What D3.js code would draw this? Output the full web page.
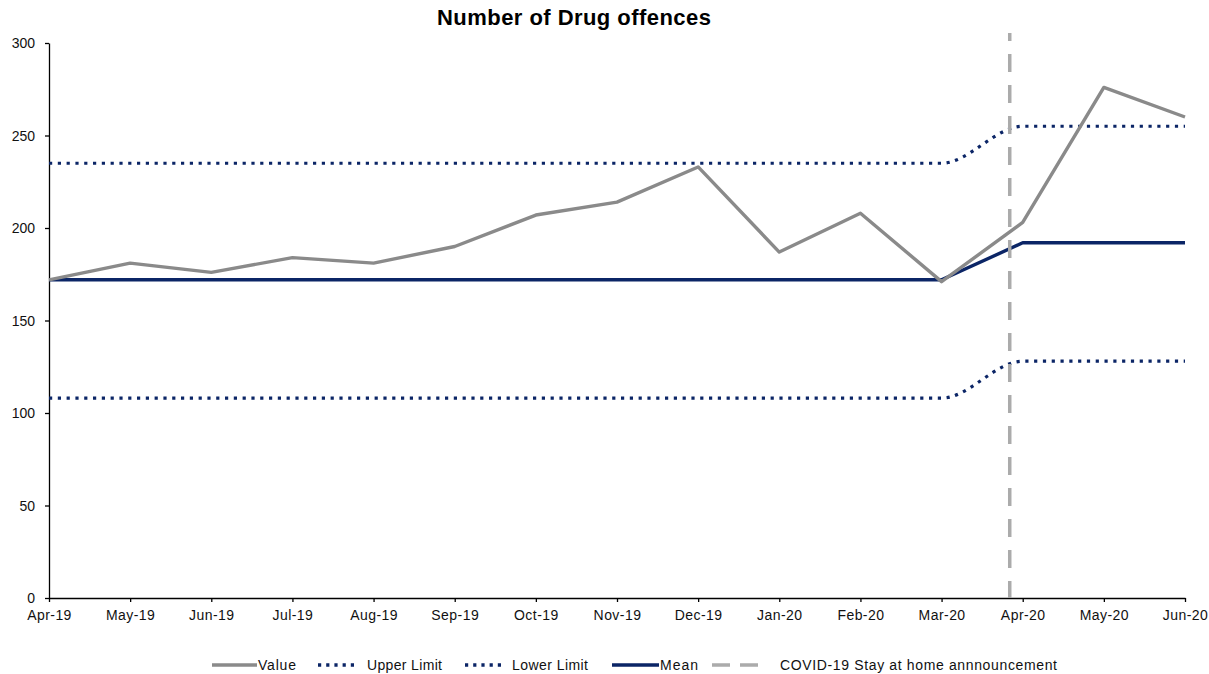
<!DOCTYPE html>
<html>
<head>
<meta charset="utf-8">
<script src="https://cdn.jsdelivr.net/npm/d3@7"></script>
<style>
  html, body { margin: 0; padding: 0; background: #fff; }
  svg { display: block; }
  text { font-family: "Liberation Sans", Arial, sans-serif; }
</style>
</head>
<body>
<svg id="chart" width="1209" height="674"></svg>
<script>
const months = ["Apr-19","May-19","Jun-19","Jul-19","Aug-19","Sep-19","Oct-19","Nov-19","Dec-19","Jan-20","Feb-20","Mar-20","Apr-20","May-20","Jun-20"];
const valueSeries = [172, 181, 176, 184, 181, 190, 207, 214, 233, 187, 208, 171, 203, 276, 260];
const upperLimit = [235, 235, 235, 235, 235, 235, 235, 235, 235, 235, 235, 235, 255, 255, 255];
const lowerLimit = [108, 108, 108, 108, 108, 108, 108, 108, 108, 108, 108, 108, 128, 128, 128];
const meanSeries = [172, 172, 172, 172, 172, 172, 172, 172, 172, 172, 172, 172, 192, 192, 192];
const covidPosition = 11.84; // position along the month index (late March 2020)
const yTicks = [0, 50, 100, 150, 200, 250, 300];
const title = "Number of Drug offences";
const legendLabels = ["Value", "Upper Limit", "Lower Limit", "Mean", "COVID-19 Stay at home annnouncement"];

const navy = "#0b2566";
const grey = "#8a8a8a";
const dashGrey = "#ababab";

const svg = d3.select("#chart");
const margin = {left: 49, right: 24, top: 43, bottom: 76};
const W = 1209, H = 674;

const x = d3.scaleLinear().domain([0, months.length - 1]).range([margin.left, W - margin.right]);
const y = d3.scaleLinear().domain([0, 300]).range([H - margin.bottom, margin.top]);

// title
svg.append("text").attr("x", 574).attr("y", 25).attr("text-anchor", "middle")
  .attr("font-size", 22).attr("font-weight", "bold").attr("fill", "#000")
  .attr("textLength", 274).attr("lengthAdjust", "spacing").text(title);

// axes
const yAxis = svg.append("g").attr("transform", `translate(${margin.left},0)`)
  .call(d3.axisLeft(y).tickValues(yTicks).tickSize(4).tickPadding(10).tickSizeOuter(0));
const xAxis = svg.append("g").attr("transform", `translate(0,${H - margin.bottom})`)
  .call(d3.axisBottom(x).tickValues(d3.range(months.length)).tickFormat(i => months[i]).tickSize(4).tickPadding(8).tickSizeOuter(0));
[yAxis, xAxis].forEach(g => {
  g.selectAll("path.domain").attr("stroke", "#000").attr("stroke-width", 1.3);
  g.selectAll(".tick line").attr("stroke", "#000").attr("stroke-width", 1.3);
  g.selectAll(".tick text").attr("font-size", 14).attr("fill", "#111")
    .style("font-family", "'Liberation Sans', Arial, sans-serif");
});
xAxis.selectAll(".tick text").style("letter-spacing", "0.45px");
yAxis.selectAll(".tick text").attr("dy", "0.35em");

const idx = d3.range(months.length);
const straight = d3.line().x(i => x(i));
const smooth = d3.line().x(i => x(i)).curve(d3.curveMonotoneX);

function drawLine(arr, gen, color, dash, width) {
  const p = svg.append("path")
    .attr("d", gen.y(i => y(arr[i]))(idx))
    .attr("fill", "none")
    .attr("stroke", color)
    .attr("stroke-width", width)
    .attr("stroke-linejoin", "round");
  if (dash) p.attr("stroke-dasharray", dash);
  return p;
}

drawLine(upperLimit, smooth, navy, "3.2,5.6", 3.2);
drawLine(lowerLimit, smooth, navy, "3.2,5.6", 3.2);
drawLine(meanSeries, straight, navy, null, 3.4);
drawLine(valueSeries, straight, grey, null, 3.4);

// covid vertical line
svg.append("line")
  .attr("x1", x(covidPosition)).attr("x2", x(covidPosition))
  .attr("y1", 33).attr("y2", y(0))
  .attr("stroke", dashGrey).attr("stroke-width", 3.5)
  .attr("stroke-dasharray", "18,13").attr("stroke-dashoffset", 10);

// legend
const legendY = 665;
const legendItems = [
  {label: legendLabels[0], color: grey, dash: null, x1: 212, x2: 257, tx: 258, tw: 38},
  {label: legendLabels[1], color: navy, dash: "3.2,5", x1: 318, x2: 358, tx: 367, tw: 75},
  {label: legendLabels[2], color: navy, dash: "3.2,5", x1: 465, x2: 505, tx: 512, tw: 76},
  {label: legendLabels[3], color: navy, dash: null, x1: 612, x2: 659, tx: 660, tw: 38},
  {label: legendLabels[4], color: dashGrey, dash: "18,10", x1: 712, x2: 758, tx: 780, tw: 277}
];
const lg = svg.append("g");
legendItems.forEach(d => {
  const l = lg.append("line").attr("x1", d.x1).attr("x2", d.x2).attr("y1", legendY).attr("y2", legendY)
    .attr("stroke", d.color).attr("stroke-width", 3.4);
  if (d.dash) l.attr("stroke-dasharray", d.dash);
  lg.append("text").attr("x", d.tx).attr("y", legendY + 5).attr("font-size", 14).attr("fill", "#111")
    .attr("textLength", d.tw).attr("lengthAdjust", "spacing").text(d.label);
});
</script>
</body>
</html>
